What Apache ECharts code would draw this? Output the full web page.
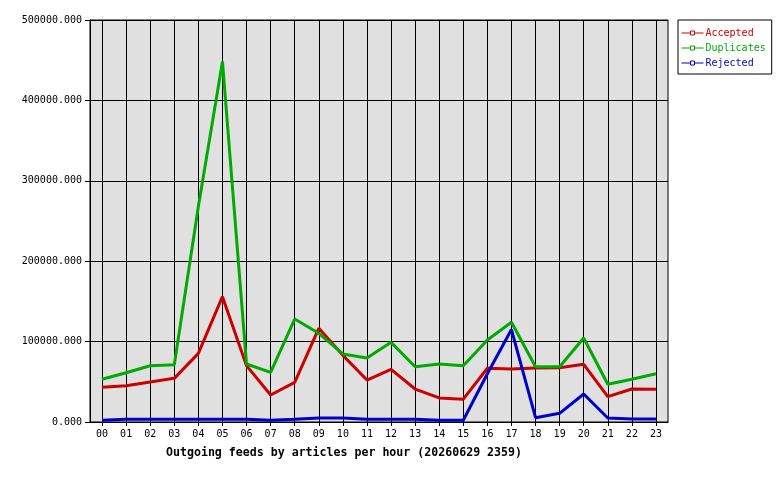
<!DOCTYPE html>
<html>
<head>
<meta charset="utf-8">
<script src="https://cdn.jsdelivr.net/npm/echarts@6/dist/echarts.min.js"></script>
<style>html,body{margin:0;padding:0;background:#fff}#c{width:780px;height:480px}</style>
</head>
<body>
<div id="c"></div>
<script>
const hours = ['00','01','02','03','04','05','06','07','08','09','10','11','12','13','14','15','16','17','18','19','20','21','22','23'];
const accepted = [43200,45200,49800,54300,85400,155900,70100,33600,49300,116500,82900,52200,65500,41000,29900,28400,66800,65800,67200,67500,71700,31500,41000,40600];
const duplicates = [53100,61300,70000,71300,268000,448200,72100,61800,128100,110300,84600,79600,99100,68800,72100,70000,102000,124000,68800,68800,104500,46900,53100,60100];
const rejected = [2100,3300,3300,3300,3300,3300,3300,2100,3300,5000,5000,3300,3300,3300,2100,2100,60000,115000,5400,10800,34800,5000,3700,3700];
const yTicks = {min:0, max:500000, interval:100000};
const titleText = 'Outgoing feeds by articles per hour (20260629 2359)';

const FONT = '"DejaVu Sans Mono", "Liberation Mono", monospace';
const chart = echarts.init(document.getElementById('c'), null, {renderer:'canvas'});
function mk(name, data, color){
  return {name, type:'line', data, symbol:'rect', symbolSize:4, showSymbol:false,
    lineStyle:{color, width:3}, itemStyle:{color, borderColor:color}, animation:false, z:3};
}
chart.setOption({
  animation:false,
  backgroundColor:'#ffffff',
  title:{text:titleText, left:339, textAlign:'center', top:442,
    textStyle:{fontFamily:FONT, fontSize:11.6, fontWeight:'bold', color:'#000'}},
  legend:{orient:'vertical', left:678, top:20, width:94, borderColor:'#000', borderWidth:1,
    padding:[7,6,5,3], itemGap:3, itemWidth:22, itemHeight:5, backgroundColor:'#fff',
    textStyle:{fontFamily:FONT, fontSize:10, lineHeight:12, padding:[0,0,0,-3]},
    lineStyle:{width:1},
    itemStyle:{color:'#fff', borderWidth:1},
    data:[{name:'Accepted', textStyle:{color:'#cc0000'}},{name:'Duplicates', textStyle:{color:'#00aa00'}},{name:'Rejected', textStyle:{color:'#0000cc'}}]},
  grid:{left:90, top:20, right:112, bottom:58, show:true, backgroundColor:'#e0e0e0', borderColor:'#000', borderWidth:1},
  xAxis:{type:'category', data:hours, boundaryGap:true,
    axisLine:{lineStyle:{color:'#000', width:1}},
    axisTick:{show:true, alignWithLabel:true, length:4, lineStyle:{color:'#000'}},
    axisLabel:{fontFamily:FONT, fontSize:10, color:'#000', margin:7, interval:0},
    splitLine:{show:true, alignWithLabel:true, interval:0, lineStyle:{color:'#000', width:1}}},
  yAxis:{type:'value', min:yTicks.min, max:yTicks.max, interval:yTicks.interval,
    axisLine:{show:true, lineStyle:{color:'#000'}},
    axisTick:{show:true, length:5, lineStyle:{color:'#000'}},
    axisLabel:{fontFamily:FONT, fontSize:10, color:'#000', margin:8, formatter:v=>v.toFixed(3)},
    splitLine:{show:true, lineStyle:{color:'#000', width:1}}},
  series:[mk('Accepted', accepted, '#cc0000'), mk('Duplicates', duplicates, '#00aa00'), mk('Rejected', rejected, '#0000cc')]
});
</script>
</body>
</html>
